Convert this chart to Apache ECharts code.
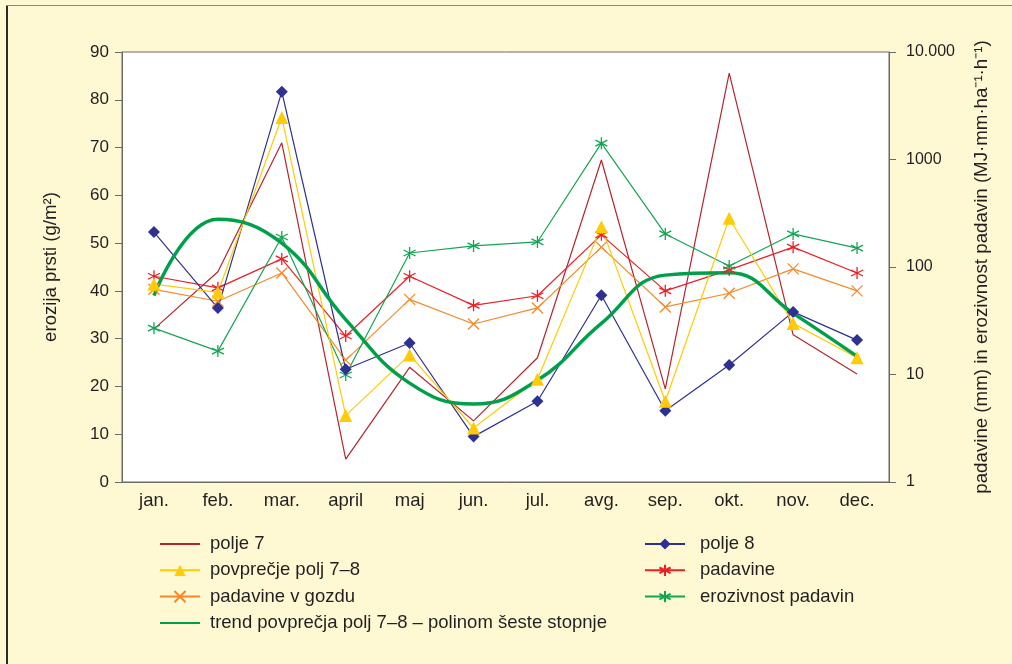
<!DOCTYPE html>
<html>
<head>
<meta charset="utf-8">
<script src="https://cdn.jsdelivr.net/npm/echarts@6/dist/echarts.min.js"></script>
<style>
	html, body {margin: 0; padding: 0; background: #fef8d3;}
	#wrap {position: relative; width: 1012px; height: 664px; background: #fef8d3; overflow: hidden;}
	#chart {position: absolute; left: 0; top: 0; width: 1012px; height: 664px;}
	.bl {position: absolute; left: 6px; top: 5px; width: 2px; height: 659px; background: #2a2a2a;}
	.bt {position: absolute; left: 6px; top: 5px; width: 1006px; height: 1px; background: #8a8a84;}
</style>
</head>
<body>
<div id="wrap">
	<div id="chart"></div>
	<div class="bl"></div>
	<div class="bt"></div>
</div>
<script>
	// meseci
	var months = ['jan.', 'feb.', 'mar.', 'april', 'maj', 'jun.', 'jul.', 'avg.', 'sep.', 'okt.', 'nov.', 'dec.'];

	// erozija prsti (g/m2) - leva os
	var polje7 = [32, 44, 71, 4.8, 24, 12.8, 26, 67.4, 19.5, 85.6, 30.8, 22.6];
	var polje8 = [52.3, 36.4, 81.7, 23.6, 29.1, 9.5, 16.9, 39.1, 14.9, 24.5, 35.6, 29.7];
	var povprecje = [41.4, 39.7, 76.3, 13.9, 26.6, 11.3, 21.5, 53.4, 16.9, 55.2, 33.2, 26.0];
	var trend = [39, 55, 50, 34, 20.7, 16.3, 21.3, 33.2, 43.3, 43.8, 35.3, 26.3];

	// padavine in erozivnost - desna os (log)
	var padavine = [82, 64, 119, 22.8, 82, 44, 54, 199, 60, 94, 153, 88];
	var padavineGozd = [62, 48, 88, 13.6, 50, 29.5, 41.6, 153, 42.5, 57, 96, 60];
	var erozivnost = [27, 16.5, 190, 9.9, 135, 157, 171, 1420, 203, 102, 203, 150];

	var font = "'Liberation Sans', Arial, sans-serif";
	var txt = '#231f20';
	var axisCol = '#6b6b66';

	var star = 'path://M5 0 L5 10 M0.7 2.5 L9.3 7.5 M0.7 7.5 L9.3 2.5';
	var cross = 'path://M0 0 L10 10 M10 0 L0 10';

	function lineSeries(name, data, color, opts){
		return Object.assign({
			name: name,
			type: 'line',
			data: data,
			symbol: 'none',
			lineStyle: {color: color, width: 1.2},
			itemStyle: {color: color},
			emphasis: {disabled: true},
			animation: false
		}, opts || {});
	}

	var series = [
		lineSeries('polje 7', polje7, '#b3262e'),
		lineSeries('padavine v gozdu', padavineGozd, '#f58a2a', {
			yAxisIndex: 1, symbol: cross, symbolSize: 11,
			itemStyle: {color: 'transparent', borderColor: '#f58a2a', borderWidth: 1.3}
		}),
		lineSeries('padavine', padavine, '#ec1f27', {
			yAxisIndex: 1, symbol: star, symbolSize: 12,
			itemStyle: {color: 'transparent', borderColor: '#ec1f27', borderWidth: 1.3}
		}),
		lineSeries('erozivnost padavin', erozivnost, '#14a552', {
			yAxisIndex: 1, symbol: star, symbolSize: 12,
			itemStyle: {color: 'transparent', borderColor: '#14a552', borderWidth: 1.3}
		}),
		lineSeries('polje 8', polje8, '#2e3192', {
			symbol: 'diamond', symbolSize: 12,
			itemStyle: {color: '#2e3192'}
		}),
		lineSeries('povprečje polj 7–8', povprecje, '#ffcb05', {
			symbol: 'triangle', symbolSize: 13,
			itemStyle: {color: '#ffcb05'}
		}),
		lineSeries('trend povprečja polj 7–8 – polinom šeste stopnje', trend, '#00a04a', {
			smooth: 0.45,
			lineStyle: {color: '#00a04a', width: 3.5}
		})
	];

	var noSym = {opacity: 0};

	var chart = echarts.init(document.getElementById('chart'), null, {renderer: 'canvas'});
	chart.setOption({
		backgroundColor: 'transparent',
		textStyle: {fontFamily: font},
		grid: {
			left: 122, right: 123, top: 52, bottom: 182,
			show: true, backgroundColor: '#ffffff', borderColor: axisCol, borderWidth: 1
		},
		legend: [{
			orient: 'vertical', left: 159, top: 534, padding: 0,
			itemWidth: 40, itemHeight: 14, itemGap: 6.3,
			textStyle: {fontFamily: font, fontSize: 18.5, color: txt, lineHeight: 20, padding: [0, 0, 0, 5]},
			data: [
				{name: 'polje 7', itemStyle: noSym},
				'povprečje polj 7–8',
				'padavine v gozdu',
				{name: 'trend povprečja polj 7–8 – polinom šeste stopnje', itemStyle: noSym}
			]
		}, {
			orient: 'vertical', left: 644, top: 534, padding: 0,
			itemWidth: 40, itemHeight: 14, itemGap: 6.3,
			textStyle: {fontFamily: font, fontSize: 18.5, color: txt, lineHeight: 20, padding: [0, 0, 0, 10]},
			data: ['polje 8', 'padavine', 'erozivnost padavin']
		}],
		xAxis: {
			type: 'category',
			data: months,
			boundaryGap: true,
			axisLine: {lineStyle: {color: axisCol, width: 1}},
			axisTick: {alignWithLabel: true, length: 6, lineStyle: {color: axisCol}},
			axisLabel: {color: txt, fontSize: 18.5, margin: 9, fontFamily: font}
		},
		yAxis: [{
			type: 'value',
			min: 0, max: 90, interval: 10,
			name: 'erozija prsti (g/m²)',
			nameLocation: 'middle',
			nameGap: 62,
			nameRotate: 90,
			nameTextStyle: {color: txt, fontSize: 18.6, fontFamily: font},
			axisLine: {show: true, lineStyle: {color: axisCol, width: 1}},
			axisTick: {show: true, length: 7, lineStyle: {color: axisCol}},
			axisLabel: {color: txt, fontSize: 17, margin: 13, fontFamily: font},
			splitLine: {show: false}
		}, {
			type: 'log',
			logBase: 10,
			min: 1, max: 10000,
			position: 'right',
			name: 'padavine (mm) in erozivnost padavin (MJ·mm·ha⁻¹·h⁻¹)',
			nameLocation: 'middle',
			nameGap: 83,
			nameRotate: 90,
			nameTextStyle: {color: txt, fontSize: 18.7, fontFamily: font},
			axisLine: {show: true, lineStyle: {color: axisCol, width: 1}},
			axisTick: {show: true, length: 7, lineStyle: {color: axisCol}},
			minorTick: {show: false},
			axisLabel: {
				color: txt, fontSize: 16, margin: 17, fontFamily: font,
				formatter: function(v){ return v === 10000 ? '10.000' : String(v); }
			},
			splitLine: {show: false}
		}],
		series: series
	});
</script>
</body>
</html>
